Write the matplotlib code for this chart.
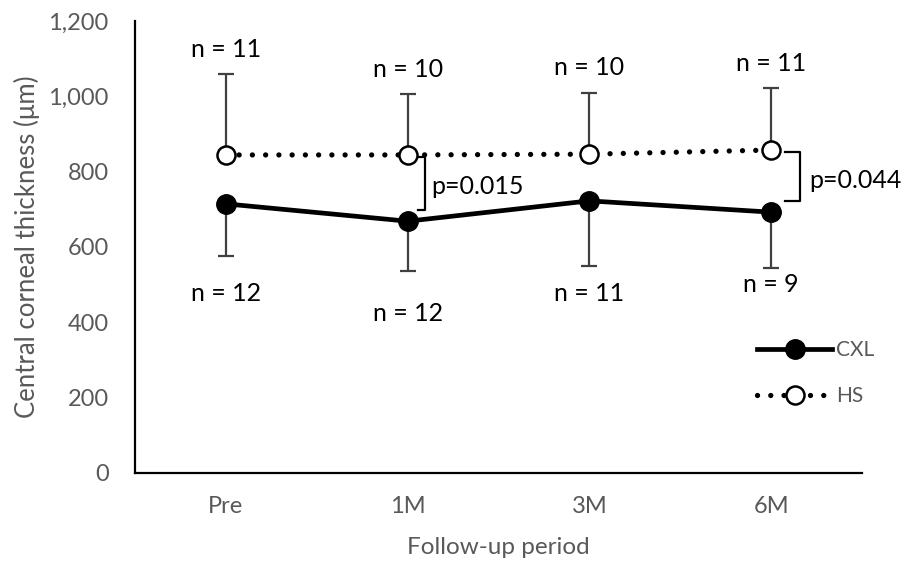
import matplotlib.pyplot as plt
from matplotlib.ticker import FuncFormatter

plt.rcParams['font.family'] = ['Lato', 'DejaVu Sans']

periods = ['Pre', '1M', '3M', '6M']

cxl_mean = [714, 668, 722, 692]
cxl_low = [575, 536, 549, 545]
cxl_n = [12, 12, 11, 9]

hs_mean = [844, 844, 846, 857]
hs_high = [1059, 1005, 1008, 1022]
hs_n = [11, 10, 10, 11]

# where the n labels sit (data units)
hs_n_pos = [1123, 1070, 1075, 1086]
cxl_n_pos = [477, 424, 477, 499]

p_labels = ['p=0.015', 'p=0.044']
p_idx = [1, 3]
p_pos = [(1.128, 760), (3.21, 775)]

gray = '#595959'
x = list(range(len(periods)))

fig = plt.figure(figsize=(9.08, 5.62), dpi=100)
ax = fig.add_axes([135 / 908, 1 - 472.7 / 562, 727 / 908, 451.8 / 562])

cxl_err = [[m - l for m, l in zip(cxl_mean, cxl_low)], [0] * 4]
hs_err = [[0] * 4, [h - m for m, h in zip(hs_mean, hs_high)]]

ax.errorbar(x, cxl_mean, yerr=cxl_err, fmt='none', ecolor='#404040',
            elinewidth=1.6, capsize=6, capthick=1.6, zorder=2)
ax.errorbar(x, hs_mean, yerr=hs_err, fmt='none', ecolor='#404040',
            elinewidth=1.6, capsize=6, capthick=1.6, zorder=2)

ax.plot(x, cxl_mean, color='black', lw=3.4, marker='o', ms=14,
        mfc='black', mec='black', label='CXL', zorder=3)
ax.plot(x, hs_mean, color='black', lw=3.8, marker='o', ms=13,
        mfc='white', mec='black', mew=1.8, label='HS', zorder=3,
        dashes=(0.01, 2.5), dash_capstyle='round')

for i in x:
    ax.text(i, hs_n_pos[i], f'n = {hs_n[i]}', ha='center', va='center',
            fontsize=18, color='black')
    ax.text(i, cxl_n_pos[i], f'n = {cxl_n[i]}', ha='center', va='center',
            fontsize=18, color='black')

# significance brackets
offsets = [(0.055, 0.093), (0.077, 0.16)]
for k, lab, (x0, x1), (tx, ty) in zip(p_idx, p_labels, offsets, p_pos):
    top = hs_mean[k] - 5
    bot = cxl_mean[k] + 30
    ax.plot([k + x0, k + x1, k + x1, k + x0], [top, top, bot, bot],
            color='black', lw=1.6, zorder=2)
    ax.text(tx, ty, lab, ha='left', va='center', fontsize=18, color='black')

ax.set_xlim(-0.5, 3.5)
ax.set_ylim(0, 1200)
ax.set_xticks(x)
ax.set_xticklabels(periods)
ax.set_yticks(range(0, 1201, 200))
ax.yaxis.set_major_formatter(FuncFormatter(lambda v, p: f'{int(v):,}'))
ax.tick_params(length=0, labelsize=17, labelcolor=gray)
ax.tick_params(axis='y', pad=19)
ax.tick_params(axis='x', pad=17)

for s in ['top', 'right']:
    ax.spines[s].set_visible(False)
for s in ['left', 'bottom']:
    ax.spines[s].set_linewidth(1.6)
    ax.spines[s].set_color('black')

ax.set_xlabel('Follow-up period', fontsize=17.5, color=gray, labelpad=14)
ax.set_ylabel('Central corneal thickness (μm)', fontsize=18.5, color=gray,
              labelpad=6)

leg = ax.legend(loc='center left', bbox_to_anchor=(757 / 908, 1 - 373 / 562),
                bbox_transform=fig.transFigure, frameon=False, fontsize=15,
                handlelength=3.6, handletextpad=0.2, labelspacing=1.25,
                borderpad=0, borderaxespad=0)
for t in leg.get_texts():
    t.set_color(gray)

fig.savefig('out.png', dpi=100)
